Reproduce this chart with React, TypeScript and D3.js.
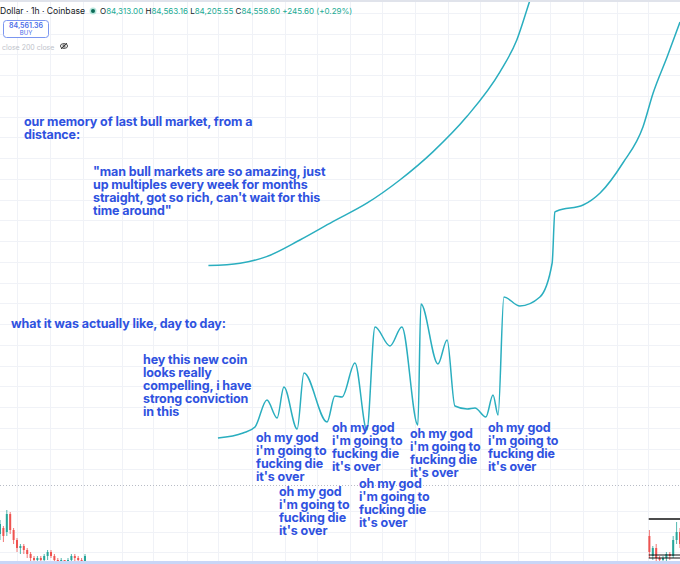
import React from 'react';
import * as d3 from 'd3';

const W = 680;
const H = 564;

// ---- data (time in hours-index, price in arbitrary units) ----
const memoryTime = [61.3, 70.6, 78.4, 88.2, 97.9, 107.9, 117.6, 127.4, 137.3, 147.1, 152.0, 155.9, 157.5];
const memoryPrice = [149.2, 150.4, 153.7, 162, 171.2, 180.4, 192, 206.2, 223.7, 246.2, 262, 282, 290];

const actualTime = [64.1, 71.5, 75.0, 78.5, 81.5, 83.5, 87.4, 89.4, 96.2, 98.5, 100.6, 104.4, 107.9, 110.3, 114.7, 118.2, 122.9, 123.8, 128.8, 131.5, 133.8, 137.4, 139.7, 142.9, 145.0, 146.5, 148.2, 152.9, 158.8, 162.4, 163.2, 163.8, 171.5, 176.5, 183.2, 189.1, 192.1, 196.2, 200];
const actualPrice = [63, 65.5, 68.5, 82, 73, 88.5, 67.5, 95.5, 71, 84, 83.5, 100.5, 67, 118.5, 109, 118.5, 69.5, 130, 100, 112, 79, 77.5, 78, 73.5, 84.5, 74.5, 133.5, 129, 133.5, 150.5, 176, 176.5, 179.5, 185.5, 200.5, 218.5, 235.5, 253.5, 271];

const candleTime = [0, 1, 2, 3, 4, 5, 6, 7, 8, 9, 10, 11, 12, 13, 14, 15, 16, 17, 18, 19, 20, 21, 22, 23, 24, 25, 191, 192, 193, 194, 195, 196, 197, 198, 199, 200];
const candleOpen = [15, 18, 16, 25, 17, 12, 8, 9, 7, 5, 3, 2, 3, 2, 4, 6, 4, 2, 1, 2, 1, 2, 4, 3, 2, 1, 14, 4, 8, 3, 2, 3, 5, 4, 12, 16];
const candleHigh = [22, 19, 27, 26, 18, 13, 10, 10, 8, 6, 4, 4, 4, 5, 7, 7, 5, 3, 3, 2, 3, 5, 5, 4, 3, 5, 17, 9, 10, 4, 4, 6, 6, 14, 21, 18];
const candleLow = [12, 11, 14, 15, 10, 6, 5, 5, 3, 1, 0, 0, 1, 1, 2, 3, 1, 0, 0, 0, 0, 1, 1, 0, 0, 0, 3, 2, 1, 1, 1, 1, 2, 3, 10, 8];
const candleClose = [20, 14, 25, 17, 12, 8, 9, 7, 5, 3, 2, 3, 2, 4, 6, 4, 2, 1, 2, 1, 2, 4, 3, 2, 1, 4, 6, 8, 3, 2, 3, 5, 4, 12, 16, 10];

const levelPrices = [22.5, 4.5, 3];
const levelStart = 190.8;
const dottedPrice = 39.5;

const gridTimes = [5, 14.7, 24.4, 35.9, 45, 55, 64.1, 74.1, 83.8, 93.2, 102.9, 112.4, 122.1, 131.8, 141.2, 152.4, 161.8, 171.5, 181.5, 190.6];
const gridPrices = [275.5, 265.1, 254.8, 244.4, 234, 223.6, 213.3, 202.9, 192.5, 182.1, 171.8, 161.4, 151, 140.6, 130.3, 119.9, 109.5, 99.1, 88.8, 78.4, 68, 57.6, 47.3, 26.5, 16.1, 5.8];

const omg = ["oh my god", "i'm going to", "fucking die", "it's over"];
const annotations = [
  { t: 7.06, p: 219, lines: ["our memory of last bull market, from a", "distance:"] },
  { t: 27.35, p: 194.2, lines: ['"man bull markets are so amazing, just', "up multiples every week for months", "straight, got so rich, can't wait for this", 'time around"'] },
  { t: 3.24, p: 117.8, lines: ["what it was actually like, day to day:"] },
  { t: 42.06, p: 99.8, lines: ["hey this new coin", "looks really", "compelling, i have", "strong conviction", "in this"] },
  { t: 75.3, p: 61.2, lines: omg },
  { t: 82.06, p: 33.8, lines: omg },
  { t: 97.65, p: 65.8, lines: omg },
  { t: 105.6, p: 38.2, lines: omg },
  { t: 120.6, p: 63.2, lines: omg },
  { t: 143.5, p: 66.2, lines: omg },
];

const ohlc = [
  { k: "O", v: "84,313.00" },
  { k: "H", v: "84,563.16" },
  { k: "L", v: "84,205.55" },
  { k: "C", v: "84,558.60" },
];
const change = "+245.60 (+0.29%)";

export default function App() {
  const x = d3.scaleLinear().domain([0, 200]).range([0, W]);
  const y = d3.scaleLinear().domain([0, 282]).range([H, 0]);

  const line = d3
    .line<[number, number]>()
    .x((d) => x(d[0]))
    .y((d) => y(d[1]))
    .curve(d3.curveMonotoneX);

  const memPath = line(memoryTime.map((t, i) => [t, memoryPrice[i]]));
  const actPath = line(actualTime.map((t, i) => [t, actualPrice[i]]));

  const blue = '#2f52e0';
  const teal = '#2aaebf';
  const font = 'Inter, "Noto Sans", sans-serif';

  return (
    <svg width={W} height={H} style={{ position: 'absolute', left: 0, top: 0, display: 'block', background: '#fff' }}>
      {/* grid */}
      <g stroke="#f0f2f7" strokeWidth={1}>
        {gridTimes.map((t, i) => (
          <line key={'v' + i} x1={Math.round(x(t)) + 0.5} x2={Math.round(x(t)) + 0.5} y1={0} y2={H} />
        ))}
        {gridPrices.map((p, i) => (
          <line key={'h' + i} x1={0} x2={W} y1={Math.round(y(p)) + 0.5} y2={Math.round(y(p)) + 0.5} />
        ))}
      </g>
      {/* dotted line */}
      <line x1={0} x2={W} y1={Math.round(y(dottedPrice)) + 0.5} y2={Math.round(y(dottedPrice)) + 0.5} stroke="#b8bcc6" strokeWidth={1} strokeDasharray="1 2" />

      {/* candles */}
      <g>
        {candleTime.map((t, i) => {
          const up = candleClose[i] >= candleOpen[i];
          const c = up ? '#26a69a' : '#ef5350';
          const cx = x(t);
          const top = y(Math.max(candleOpen[i], candleClose[i]));
          const bot = y(Math.min(candleOpen[i], candleClose[i]));
          return (
            <g key={'c' + i}>
              <line x1={cx} x2={cx} y1={y(candleHigh[i])} y2={y(candleLow[i])} stroke={c} strokeWidth={0.8} />
              <rect x={cx - 1} y={top} width={2} height={Math.max(0.8, bot - top)} fill={c} />
            </g>
          );
        })}
      </g>
      {/* level lines */}
      {levelPrices.map((p, i) => (
        <line key={'l' + i} x1={x(levelStart)} x2={W} y1={y(p)} y2={y(p)} stroke="#111" strokeWidth={i === 0 ? 1.5 : 1} />
      ))}

      {/* curves */}
      <path d={memPath || ''} fill="none" stroke={teal} strokeWidth={1.5} />
      <path d={actPath || ''} fill="none" stroke={teal} strokeWidth={1.5} />

      {/* annotations */}
      <g fill={blue} fontFamily={font} fontWeight={700} fontSize={12.5} letterSpacing={-0.1}>
        {annotations.map((a, i) => (
          <text key={'a' + i} x={x(a.t)} y={y(a.p)}>
            {a.lines.map((l, j) => (
              <tspan key={j} x={x(a.t)} dy={j === 0 ? 0 : 13}>
                {l}
              </tspan>
            ))}
          </text>
        ))}
      </g>

      {/* header chrome */}
      <rect x={0} y={0} width={W} height={2} fill="#e0e3eb" />
      <rect x={0} y={H - 3} width={W} height={3} fill="#c9d6f7" />
      <text x={0} y={14} fontFamily={font} fontSize={8.6} fill="#131722">
        Dollar · 1h · Coinbase
      </text>
      <circle cx={93} cy={11} r={3.5} fill="#b7e6dc" />
      <circle cx={93} cy={11} r={2} fill="#0b6b57" />
      <text x={100} y={14} fontFamily={font} fontSize={8} fill="#22ab94">
        {ohlc.map((o, i) => (
          <React.Fragment key={i}>
            <tspan fill="#131722">{o.k}</tspan>
            <tspan>{o.v + ' '}</tspan>
          </React.Fragment>
        ))}
        <tspan>{change}</tspan>
      </text>
      <rect x={3.5} y={20.5} width={45} height={17} rx={3} fill="#fff" stroke="#7b96f0" strokeWidth={1} />
      <text x={26} y={28} textAnchor="middle" fontFamily={font} fontSize={7} fontWeight={600} fill="#4a6ce8">
        84,561.36
      </text>
      <text x={26} y={35} textAnchor="middle" fontFamily={font} fontSize={6} fill="#4a6ce8">
        BUY
      </text>
      <text x={2} y={50} fontFamily={font} fontSize={7} fill="#c0c3cb">
        close 200 close
      </text>
      <g transform="translate(64,46)" stroke="#333" fill="none" strokeWidth={0.9}>
        <ellipse cx={0} cy={0} rx={3.6} ry={2.4} />
        <circle cx={0} cy={0} r={1.1} />
        <line x1={-3} y1={3} x2={3} y2={-3} />
      </g>
    </svg>
  );
}
